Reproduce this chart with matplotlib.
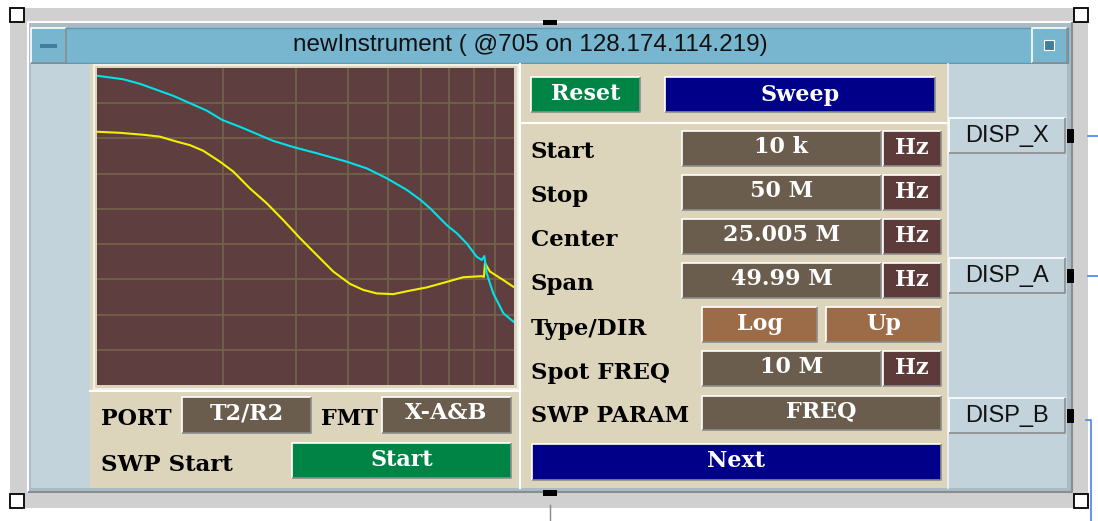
import matplotlib
matplotlib.use("Agg")
import matplotlib.pyplot as plt
from matplotlib.patches import Rectangle

W, H = 1098, 521

# traces on the display: one log decade across, 9 divisions up
cyan_x = [1.0, 1.156, 1.268, 1.39, 1.524, 1.671, 1.833, 2.0, 2.203, 2.415, 2.647, 2.968,
          3.365, 3.971, 4.435, 4.951, 5.53, 5.974, 6.29, 6.897, 7.289, 7.703, 8.14, 8.368,
          8.489, 8.601, 8.92, 9.426, 9.96]
cyan_y = [8.78, 8.68, 8.55, 8.38, 8.21, 8.0, 7.79, 7.52, 7.33, 7.13, 6.93, 6.75,
          6.58, 6.34, 6.15, 5.87, 5.54, 5.25, 5.02, 4.54, 4.31, 4.02, 3.64, 3.55,
          3.66, 3.17, 2.6, 2.04, 1.8]
yellow_x = [1.0, 1.135, 1.303, 1.416, 1.553, 1.671, 1.798, 1.972, 2.122, 2.327, 2.553, 2.798,
            3.067, 3.365, 3.687, 4.044, 4.351, 4.686, 5.135, 5.631, 6.175, 6.768, 7.558, 8.368,
            8.47, 8.52, 8.757, 9.426, 9.96]
yellow_y = [7.19, 7.16, 7.10, 7.05, 6.91, 6.81, 6.65, 6.34, 6.06, 5.58, 5.16, 4.68,
            4.17, 3.69, 3.22, 2.87, 2.70, 2.60, 2.58, 2.68, 2.77, 2.90, 3.06, 3.09,
            3.07, 3.46, 3.22, 2.98, 2.79]

title = "newInstrument ( @705 on 128.174.114.219)"
freq_labels = ["Start", "Stop", "Center", "Span"]
freq_values = ["10 k", "50 M", "25.005 M", "49.99 M"]
unit = "Hz"
type_dir = ["Log", "Up"]
spot_freq = "10 M"
swp_param = "FREQ"
port_value = "T2/R2"
fmt_value = "X-A&B"
outputs = ["DISP_X", "DISP_A", "DISP_B"]

# colours
TAN = "#ddd4bc"
PANEL = "#c3d3dc"
VALUE = "#6a5d4d"
HZ = "#5e3b3b"
BROWN = "#9c6b47"
GREEN = "#008445"
NAVY = "#000088"
PLOT_BG = "#5e3e3e"

SERIF = dict(family="DejaVu Serif", weight="bold")

fig = plt.figure(figsize=(W / 100, H / 100), dpi=100)
bg = fig.add_axes([0, 0, 1, 1])
bg.set_xlim(0, W)
bg.set_ylim(H, 0)
bg.axis("off")


def box(x0, y0, x1, y1, color, bevel=True, lw=1.2):
    bg.add_patch(Rectangle((x0, y0), x1 - x0, y1 - y0, facecolor=color, edgecolor="none"))
    if bevel:
        bg.plot([x0, x0, x1], [y1, y0, y0], color="white", lw=lw, solid_capstyle="butt")
        bg.plot([x0, x1, x1], [y1, y1, y0], color="#8c8c8c", lw=lw, solid_capstyle="butt")


def label(x, y, s, color="black", ha="left", size=16):
    bg.text(x, y, s, ha=ha, va="center", color=color, fontsize=size, zorder=4, **SERIF)


def button_text(x0, x1, y, s, size=16):
    label((x0 + x1) / 2, y, s, color="white", ha="center", size=size)


# selection band and window frame
bg.add_patch(Rectangle((10, 8), 1078, 500, facecolor="#d0d0d0", edgecolor="none"))
box(28, 22, 1072, 492, "#a9bcc6", bevel=True, lw=1.5)
bg.add_patch(Rectangle((31, 28), 1037, 35, facecolor="#78b6d0", edgecolor="#5e98b2", lw=1))
box(31, 28, 66, 63, "#78b6d0")
bg.add_patch(Rectangle((40, 44), 17, 4, facecolor="#3e7f9e", edgecolor="none", zorder=3))
box(1032, 28, 1067, 63, "#78b6d0")
bg.add_patch(Rectangle((1044, 40), 10, 10, facecolor="#3e7f9e", edgecolor="white", lw=0.8, zorder=3))
bg.text(530, 45.5, title, ha="center", va="center", fontsize=17.5, family="Liberation Sans", color="#111111")

# panels
bg.add_patch(Rectangle((31, 64), 59, 424, facecolor=PANEL, edgecolor="none"))
bg.add_patch(Rectangle((90, 64), 858, 424, facecolor=TAN, edgecolor="none"))
bg.add_patch(Rectangle((948, 64), 119, 424, facecolor=PANEL, edgecolor="none"))
bg.plot([520, 520], [64, 488], color="white", lw=1.5)
bg.plot([520, 948], [123, 123], color="white", lw=1.5)
bg.plot([90, 520], [391, 391], color="white", lw=1.5)
bg.plot([948, 948], [64, 488], color="#f2f2f2", lw=1.2)

# top buttons
box(531, 77, 640, 112, GREEN)
button_text(531, 640, 94.5, "Reset")
box(665, 77, 935, 112, NAVY)
button_text(665, 935, 94.5, "Sweep")

# frequency rows
for i, (name, val) in enumerate(zip(freq_labels, freq_values)):
    top = 131 + 44 * i
    label(531, top + 21, name, size=16.5)
    box(682, top, 881, top + 35, VALUE)
    button_text(682, 881, top + 16, val)
    box(883, top, 941, top + 35, HZ)
    button_text(883, 941, top + 17, unit)

label(531, 329, "Type/DIR", size=16.5)
box(702, 307, 817, 342, BROWN)
button_text(702, 817, 324, type_dir[0])
box(826, 307, 941, 342, BROWN)
button_text(826, 941, 324, type_dir[1])

label(531, 373, "Spot FREQ", size=16.5)
box(702, 351, 881, 386, VALUE)
button_text(702, 881, 367, spot_freq)
box(883, 351, 941, 386, HZ)
button_text(883, 941, 368, unit)

label(531, 416, "SWP PARAM")
box(702, 396, 941, 430, VALUE)
button_text(702, 941, 411, swp_param)

box(532, 444, 941, 480, NAVY)
button_text(532, 941, 461, "Next")

# port / format row
label(101, 419, "PORT")
box(182, 397, 311, 433, VALUE)
button_text(182, 311, 413, port_value)
label(321, 419, "FMT")
box(382, 397, 511, 433, VALUE)
button_text(382, 511, 413, fmt_value)
label(101, 465, "SWP Start", size=16.5)
box(292, 443, 511, 478, GREEN)
button_text(292, 511, 460, "Start")

# output terminals
for i, name in enumerate(outputs):
    top = 118 + 140 * i
    box(949, top, 1065, top + 35, PANEL)
    bg.text(1007, top + 18, name, ha="center", va="center", fontsize=17,
            family="Liberation Sans", color="#111111", zorder=4)
    bg.add_patch(Rectangle((1067, top + 11), 7, 14, facecolor="black", edgecolor="none", zorder=5))

# handles and wires
for hx, hy in [(10, 8), (1074, 8), (10, 494), (1074, 494)]:
    bg.add_patch(Rectangle((hx, hy), 14, 14, facecolor="white", edgecolor="black", lw=1.3, zorder=5))
bg.add_patch(Rectangle((543, 20), 14, 5, facecolor="black", edgecolor="none", zorder=5))
bg.add_patch(Rectangle((543, 490), 14, 6, facecolor="black", edgecolor="none", zorder=5))
bg.plot([550, 550], [505, 521], color="#888888", lw=1)
wire = "#4a7ff0"
bg.plot([1088, 1098], [136, 136], color=wire, lw=1.2)
bg.plot([1088, 1098], [276, 276], color=wire, lw=1.2)
bg.plot([1086, 1091, 1091], [420, 420, 521], color=wire, lw=1.2)

# display
bg.add_patch(Rectangle((94, 65), 424, 324, facecolor="none", edgecolor="#f4f0e4", lw=1.5))
ax = fig.add_axes([97 / W, (H - 385) / H, 417 / W, 317 / H])
ax.set_facecolor(PLOT_BG)
ax.set_xscale("log")
ax.set_xlim(1, 10)
ax.set_ylim(0, 9)
ax.set_xticks(range(2, 10))
ax.set_xticks([], minor=True)
ax.set_yticks(range(1, 9))
ax.grid(True, color="#706249", lw=1.3)
ax.tick_params(length=0, labelbottom=False, labelleft=False)
for sp in ax.spines.values():
    sp.set_visible(False)
ax.plot(yellow_x, yellow_y, color="#f2f000", lw=1.5)
ax.plot(cyan_x, cyan_y, color="#00e2ea", lw=1.5)

fig.savefig("out.png", dpi=100)
